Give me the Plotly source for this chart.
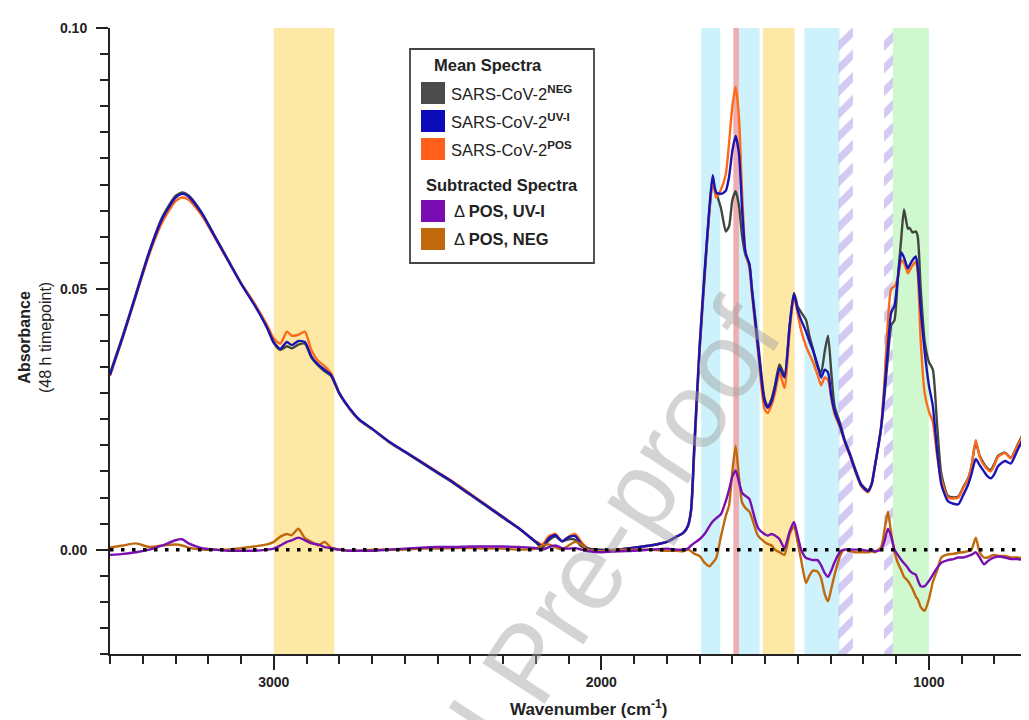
import plotly.graph_objects as go

# ---------------- data ----------------
wavenumber = [3500, 3460, 3420, 3380, 3340, 3300, 3280, 3260, 3220, 3180, 3140, 3100, 3060, 3020, 3000,
              2980, 2960, 2945, 2925, 2905, 2885, 2865, 2845, 2825, 2800, 2770, 2740, 2700, 2650, 2600,
              2550, 2500, 2450, 2400, 2350, 2300, 2250, 2200, 2180, 2160, 2140, 2120, 2100, 2080, 2060,
              2040, 2000, 1950, 1900, 1850, 1800, 1770, 1750, 1736, 1726, 1716, 1700, 1685, 1670, 1660,
              1650, 1635, 1620, 1610, 1600, 1590, 1580, 1570, 1560, 1548, 1540, 1522, 1502, 1492, 1480,
              1470, 1456, 1441, 1425, 1412, 1400, 1390, 1375, 1365, 1354, 1340, 1329, 1318, 1308, 1298,
              1288, 1270, 1258, 1240, 1227, 1207, 1186, 1175, 1166, 1146, 1135, 1125, 1115, 1105, 1095,
              1084, 1076, 1064, 1059, 1050, 1040, 1034, 1025, 1013, 1000, 988, 975, 962, 942, 925,
              910, 895, 880, 870, 857, 845, 832, 820, 811, 800, 789, 768, 750, 730, 710,
              690, 670]

uvi = [0.0335, 0.041, 0.049, 0.057, 0.0635, 0.0675, 0.0682, 0.0677, 0.0645, 0.060, 0.0555, 0.051, 0.047, 0.0425, 0.0398,
       0.0385, 0.0398, 0.0392, 0.0400, 0.0398, 0.037, 0.0355, 0.0345, 0.0335, 0.030, 0.0272, 0.0250, 0.0232, 0.0208, 0.0188,
       0.0168, 0.0148, 0.0128, 0.0106, 0.0084, 0.0062, 0.0040, 0.0015, 0.0006, 0.0022, 0.0028, 0.0016, 0.0024, 0.0026, 0.0010,
       0.0002, -0.0002, 0.0, 0.0004, 0.0008, 0.0015, 0.0025, 0.0032, 0.0045, 0.0077, 0.0203, 0.039, 0.053, 0.0656, 0.0718,
       0.0685, 0.0682, 0.0688, 0.0715, 0.0765, 0.0793, 0.0760, 0.0650, 0.0570, 0.0547, 0.0495, 0.039, 0.0285, 0.0272, 0.0285,
       0.031, 0.0348, 0.0330, 0.043, 0.0490, 0.0458, 0.0440, 0.0418, 0.0400, 0.0382, 0.0355, 0.0330, 0.0345, 0.0340, 0.0295,
       0.0265, 0.0235, 0.021, 0.018, 0.0156, 0.0124, 0.0112, 0.0125, 0.0156, 0.0234, 0.031, 0.039, 0.0455, 0.0468, 0.052,
       0.0570, 0.0560, 0.0539, 0.0545, 0.0555, 0.0562, 0.0540, 0.046, 0.038, 0.0315, 0.0275, 0.019, 0.0125, 0.0093, 0.0088,
       0.0087, 0.0105, 0.0125, 0.0145, 0.0174, 0.0162, 0.0150, 0.0140, 0.0137, 0.0145, 0.0160, 0.0170, 0.0165, 0.0190, 0.0215,
       0.0232, 0.0243]

neg = [0.0338, 0.0412, 0.0492, 0.0572, 0.0638, 0.0678, 0.0685, 0.0679, 0.0646, 0.0601, 0.0556, 0.0511, 0.0471, 0.0425, 0.0396,
       0.0383, 0.0390, 0.0386, 0.0393, 0.0395, 0.0368, 0.0353, 0.0342, 0.0333, 0.0299, 0.0271, 0.0249, 0.0231, 0.0207, 0.0187,
       0.0167, 0.0147, 0.0127, 0.0105, 0.0083, 0.0061, 0.0040, 0.0014, 0.0004, 0.0018, 0.0025, 0.0016, 0.0020, 0.0019, 0.0006,
       0.0002, 0.0, 0.0, 0.0004, 0.0008, 0.0015, 0.0025, 0.0032, 0.0045, 0.0075, 0.019, 0.038, 0.052, 0.065, 0.0705,
       0.0685, 0.0655, 0.0610, 0.0620, 0.0670, 0.0687, 0.0660, 0.0600, 0.0565, 0.0547, 0.0500, 0.040, 0.029, 0.0275, 0.029,
       0.0315, 0.0355, 0.0335, 0.043, 0.0492, 0.0465, 0.0455, 0.0440, 0.0410, 0.0385, 0.0350, 0.0340, 0.0380, 0.0410, 0.0340,
       0.0275, 0.0240, 0.0212, 0.0182, 0.0158, 0.0126, 0.0114, 0.0126, 0.0156, 0.0232, 0.030, 0.037, 0.043, 0.044, 0.052,
       0.060, 0.0652, 0.0615, 0.0617, 0.0608, 0.061, 0.0600, 0.050, 0.040, 0.036, 0.0345, 0.024, 0.0145, 0.0103, 0.0100,
       0.0102, 0.0120, 0.0137, 0.0160, 0.0205, 0.0180, 0.0165, 0.0155, 0.0153, 0.0165, 0.0180, 0.0186, 0.0176, 0.0200, 0.0225,
       0.0240, 0.0253]

pos = [0.0333, 0.0408, 0.0488, 0.0566, 0.0628, 0.0668, 0.0675, 0.0671, 0.0641, 0.0598, 0.0554, 0.0511, 0.0473, 0.0430, 0.0405,
       0.0395, 0.0418, 0.0410, 0.0412, 0.0418, 0.0382, 0.0362, 0.0352, 0.0338, 0.0301, 0.0271, 0.0249, 0.0232, 0.0208, 0.0188,
       0.0169, 0.0149, 0.0129, 0.0107, 0.0085, 0.0063, 0.0040, 0.0016, 0.0010, 0.0026, 0.0030, 0.0016, 0.0025, 0.0030, 0.0014,
       0.0002, -0.0003, 0.0, 0.0004, 0.0008, 0.0015, 0.0025, 0.0032, 0.0045, 0.0075, 0.020, 0.039, 0.053, 0.065, 0.0712,
       0.0675, 0.0690, 0.0720, 0.0780, 0.0850, 0.0887, 0.0830, 0.0680, 0.0570, 0.0540, 0.0490, 0.038, 0.027, 0.0262, 0.0278,
       0.030, 0.034, 0.0310, 0.042, 0.0485, 0.0450, 0.042, 0.039, 0.0375, 0.036, 0.0335, 0.0315, 0.033, 0.0325, 0.029,
       0.026, 0.0232, 0.0208, 0.0178, 0.0154, 0.0122, 0.0110, 0.0124, 0.0156, 0.0236, 0.033, 0.044, 0.0500, 0.0505, 0.052,
       0.0555, 0.0550, 0.0530, 0.0535, 0.0545, 0.0552, 0.0530, 0.040, 0.030, 0.0265, 0.0245, 0.018, 0.0135, 0.0100, 0.0098,
       0.0100, 0.0118, 0.0135, 0.0160, 0.0210, 0.0178, 0.0162, 0.0153, 0.0150, 0.0162, 0.0178, 0.0185, 0.0175, 0.0198, 0.0222,
       0.0238, 0.0250]

delta_pos_uvi = [-0.0010, -0.0008, -0.0005, 0.0, 0.0008, 0.0018, 0.0020, 0.0012, 0.0003, 0.0, -0.0002, -0.0002, -0.0002, 0.0, 0.0002,
                 0.0008, 0.0015, 0.0018, 0.0023, 0.0018, 0.0012, 0.0010, 0.0005, 0.0003, 0.0, -0.0002, -0.0002, -0.0002, 0.0, 0.0002,
                 0.0004, 0.0005, 0.0005, 0.0006, 0.0006, 0.0006, 0.0005, 0.0003, 0.0, 0.0005, 0.0008, 0.0003, 0.0002, 0.0003, 0.0,
                 -0.0003, -0.0005, -0.0003, -0.0002, 0.0, 0.0002, 0.0, 0.0, 0.0002, 0.0008, 0.0013, 0.0020, 0.0030, 0.0045, 0.0054,
                 0.0060, 0.0068, 0.0093, 0.0115, 0.0140, 0.0152, 0.0130, 0.0109, 0.0103, 0.0097, 0.0080, 0.0042, 0.0030, 0.0027, 0.0030,
                 0.0027, 0.0020, 0.0003, 0.0035, 0.0053, 0.0025, 0.0, -0.0016, -0.0018, -0.0020, -0.0020, -0.0030, -0.0045, -0.0052, -0.0040,
                 -0.0024, -0.0003, 0.0, 0.0, 0.0, 0.0, -0.0002, 0.0, -0.0003, 0.0, 0.0018, 0.0040, 0.0025, 0.0, -0.0010,
                 -0.0020, -0.0026, -0.0035, -0.0040, -0.0045, -0.0048, -0.0058, -0.0070, -0.0070, -0.0060, -0.0048, -0.0035, -0.0025, -0.0020, -0.0018,
                 -0.0015, -0.0015, -0.0012, -0.0010, -0.0005, -0.0015, -0.0028, -0.0022, -0.0018, -0.0015, -0.0013, -0.0015, -0.0018, -0.0018, -0.0020,
                 -0.0020, -0.0022]

delta_pos_neg = [0.0004, 0.0008, 0.0012, 0.0005, 0.0008, 0.0010, 0.0008, 0.0004, 0.0, 0.0, 0.0, 0.0003, 0.0006, 0.0010, 0.0015,
                 0.0025, 0.0030, 0.0028, 0.0040, 0.0022, 0.0015, 0.0008, 0.0015, 0.0004, 0.0, -0.0002, -0.0002, 0.0, 0.0, 0.0,
                 0.0002, 0.0002, 0.0003, 0.0003, 0.0002, 0.0002, 0.0, 0.0002, 0.0008, 0.0010, 0.0005, 0.0, 0.0008, 0.0015, 0.0010,
                 0.0, -0.0003, 0.0, 0.0, 0.0, -0.0002, -0.0002, -0.0003, 0.0, -0.0003, -0.0008, -0.0012, -0.0025, -0.0032, -0.0025,
                 -0.0017, 0.0025, 0.0065, 0.0085, 0.0150, 0.0199, 0.0140, 0.0090, 0.0080, 0.0073, 0.0060, 0.0027, 0.0015, 0.0011, 0.0008,
                 0.0, -0.0005, -0.0010, 0.0030, 0.0045, 0.0012, -0.0020, -0.0064, -0.0050, -0.0040, -0.0042, -0.0055, -0.0085, -0.0099, -0.0075,
                 -0.0048, -0.0010, 0.0, -0.0003, -0.0005, -0.0005, -0.0005, -0.0003, -0.0005, 0.0005, 0.0040, 0.0073, 0.0030, -0.0005, -0.0025,
                 -0.0040, -0.0052, -0.0060, -0.0065, -0.0075, -0.0090, -0.0095, -0.0110, -0.0117, -0.0095, -0.0062, -0.0040, -0.0015, -0.0009, -0.0008,
                 -0.0006, -0.0005, -0.0003, 0.0, 0.0023, -0.0005, -0.0015, -0.0015, -0.0012, -0.0010, -0.0012, -0.0012, -0.0015, -0.0015, -0.0017,
                 -0.0017, -0.0020]

# highlighted spectral regions (cm-1)
solid_bands = [(3000, 2815, "#fde8a6"), (1695, 1637, "#cdf2fb"), (1580, 1517, "#cdf2fb"),
               (1597, 1580, "#eeadb0"), (1507, 1410, "#fde8a6"), (1380, 1273, "#cdf2fb"),
               (1110, 1000, "#cff8cf")]
hatched_bands = [(1276, 1232), (1137, 1110)]

# ---------------- figure ----------------
W, H = 1029, 720
L, R, T, B = 102, 0, 20, 74
PW, PH = W - L - R, H - T - B
def px(x):
    return (x - L) / PW
def py(y):
    return (H - B - y) / PH

FONT = "Liberation Sans, Arial, sans-serif"
YMIN, YMAX = -0.02, 0.10

fig = go.Figure()

shapes = []
for x0, x1, c in solid_bands:
    shapes.append(dict(type="rect", xref="x", yref="paper", x0=x0, x1=x1, y0=0, y1=1,
                       fillcolor=c, line=dict(width=0), layer="below"))

for x0, x1 in hatched_bands:
    fig.add_trace(go.Scatter(x=[x0, x1, x1, x0, x0], y=[YMIN, YMIN, YMAX, YMAX, YMIN],
                             mode="lines", line=dict(width=0), fill="toself",
                             fillcolor="rgba(0,0,0,0)",
                             fillpattern=dict(shape="/", fgcolor="#a793e6", bgcolor="rgba(255,255,255,0)",
                                              size=16, solidity=0.45),
                             hoverinfo="skip", showlegend=False))

def line(y, color, name):
    fig.add_trace(go.Scatter(x=wavenumber, y=y, mode="lines", name=name,
                             line=dict(color=color, width=2.4, shape="spline", smoothing=0.6),
                             showlegend=False))

line(neg, "#41473f", "SARS-CoV-2 NEG")
line(pos, "#ff6a1a", "SARS-CoV-2 POS")
line(uvi, "#1a14b4", "SARS-CoV-2 UV-I")
line(delta_pos_neg, "#c0680c", "Δ POS, NEG")
line(delta_pos_uvi, "#7a10b0", "Δ POS, UV-I")

# zero reference line
fig.add_trace(go.Scatter(x=[wavenumber[0], wavenumber[-1]], y=[0, 0], mode="lines",
                         line=dict(color="black", width=3.5, dash="3.5px,7.5px"),
                         hoverinfo="skip", showlegend=False))

# legend box (drawn manually)
LF = 16.5
shapes.append(dict(type="rect", xref="paper", yref="paper", x0=px(402), x1=px(586), y0=py(255), y1=py(41),
                   fillcolor="white", line=dict(color="#444444", width=1.8), layer="above"))
ann = []
ann.append(dict(x=px(424), y=py(57), text="<b>Mean Spectra</b>"))
ann.append(dict(x=px(416), y=py(177), text="<b>Subtracted Spectra</b>"))
rows = [(85, "#4b4b4b", "SARS-CoV-2<sup><b>NEG</b></sup>", 441),
        (113, "#0a0ab8", "SARS-CoV-2<sup><b>UV-I</b></sup>", 441),
        (141, "#ff5f1a", "SARS-CoV-2<sup><b>POS</b></sup>", 441),
        (203, "#7a0cb4", "Δ <b>POS, UV-I</b>", 444),
        (231, "#c0680c", "Δ <b>POS, NEG</b>", 444)]
for yy, c, t, tx in rows:
    shapes.append(dict(type="rect", xref="paper", yref="paper", x0=px(413), x1=px(437),
                       y0=py(yy + 11), y1=py(yy - 11), fillcolor=c, line=dict(width=0), layer="above"))
    ann.append(dict(x=px(tx), y=py(yy), text=t))
annotations = [dict(a, xref="paper", yref="paper", xanchor="left", yanchor="middle", showarrow=False,
                    font=dict(family=FONT, size=LF, color="#222222")) for a in ann]

# axis titles
annotations.append(dict(xref="paper", yref="paper", x=px(580), y=py(700), showarrow=False,
                        text="<b>Wavenumber (cm<sup>-1</sup>)</b>", font=dict(family=FONT, size=17, color="#222222"),
                        xanchor="center", yanchor="middle"))
annotations.append(dict(xref="paper", yref="paper", x=px(27), y=py(330), showarrow=False, textangle=-90,
                        text="<b>Absorbance</b><br>(48 h timepoint)", font=dict(family=FONT, size=16, color="#222222"),
                        xanchor="center", yanchor="middle"))
# watermark
annotations.append(dict(xref="paper", yref="paper", x=px(518), y=py(655), showarrow=False, textangle=-57,
                        text="Journal Pre-proof", font=dict(family=FONT, size=108, color="rgba(160,160,160,0.45)"),
                        xanchor="center", yanchor="middle"))

fig.update_layout(
    width=W, height=H, margin=dict(l=L, r=R, t=T, b=B),
    paper_bgcolor="white", plot_bgcolor="white",
    shapes=shapes, annotations=annotations, showlegend=False,
    xaxis=dict(range=[3500, 670], tickmode="array", tickvals=[3000, 2000, 1000],
               ticktext=["<b>3000</b>", "<b>2000</b>", "<b>1000</b>"],
               ticks="outside", ticklen=14, tickwidth=1.5, tickcolor="#222222",
               minor=dict(ticks="outside", dtick=100, tick0=0, ticklen=8, tickwidth=1.5, tickcolor="#222222"),
               showline=True, linecolor="#222222", linewidth=2, showgrid=False, zeroline=False,
               tickfont=dict(family=FONT, size=14, color="#222222")),
    yaxis=dict(range=[YMIN, YMAX], tickmode="array", tickvals=[0, 0.05, 0.10],
               ticktext=["<b>0.00</b>", "<b>0.05</b>", "<b>0.10</b>"],
               ticks="outside", ticklen=12, tickwidth=1.5, tickcolor="#222222",
               minor=dict(ticks="outside", dtick=0.005, tick0=0, ticklen=8, tickwidth=1.5, tickcolor="#222222"),
               showline=True, linecolor="#222222", linewidth=2, showgrid=False, zeroline=False,
               ticklabelstandoff=6,
               tickfont=dict(family=FONT, size=14, color="#222222")),
)

fig.write_html("out.html")
